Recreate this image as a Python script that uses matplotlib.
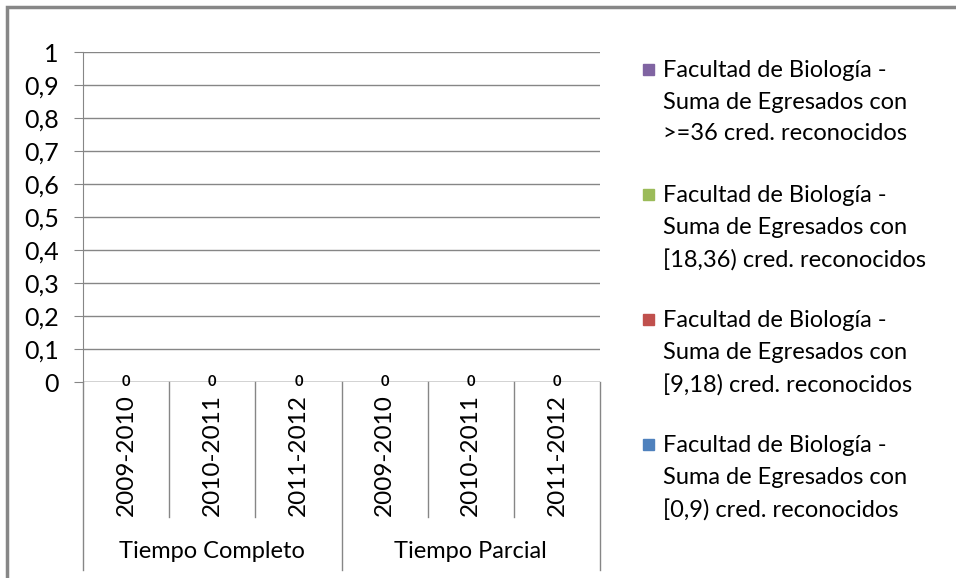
import numpy as np
import matplotlib.pyplot as plt
from matplotlib.patches import Rectangle

plt.rcParams['font.family'] = ['Lato', 'DejaVu Sans']

# data
years = ["2009-2010", "2010-2011", "2011-2012",
         "2009-2010", "2010-2011", "2011-2012"]
groups = ["Tiempo Completo", "Tiempo Parcial"]
series_names = [
    "Facultad de Biología -\nSuma de Egresados con\n[0,9) cred. reconocidos",
    "Facultad de Biología -\nSuma de Egresados con\n[9,18) cred. reconocidos",
    "Facultad de Biología -\nSuma de Egresados con\n[18,36) cred. reconocidos",
    "Facultad de Biología -\nSuma de Egresados con\n>=36 cred. reconocidos",
]
s_0_9 = [0, 0, 0, 0, 0, 0]
s_9_18 = [0, 0, 0, 0, 0, 0]
s_18_36 = [0, 0, 0, 0, 0, 0]
s_36 = [0, 0, 0, 0, 0, 0]
colors = ["#4F81BD", "#C0504D", "#9BBB59", "#8064A2"]

grid_col = "#868686"
FS = 17
W, H = 956, 578
fig = plt.figure(figsize=(W/100, H/100), dpi=100)
ax = fig.add_axes([83/W, 1-382/H, (600-83)/W, 330/H])

x = np.arange(len(years)) + 0.5
bottom = np.zeros(len(years))
bars = []
for vals, c, name in zip([s_0_9, s_9_18, s_18_36, s_36], colors, series_names):
    b = ax.bar(x, vals, width=0.55, bottom=bottom, color=c, label=name)
    bars.append(b)
    bottom += np.array(vals)

# data labels (stack totals, all zero)
for xi, v in zip(x, bottom):
    ax.text(xi, v, f"{v:g}", ha="center", va="center", fontsize=10.5,
            fontweight="bold", color="#000000", zorder=5)

ax.set_xlim(0, len(years))
ax.set_ylim(0, 1)
yt = np.round(np.arange(0, 1.01, 0.1), 1)
ax.set_yticks(yt)
ax.set_yticklabels([f"{t:g}".replace(".", ",") for t in yt], fontsize=18)
ax.tick_params(axis="y", length=6.5, color=grid_col, pad=11)
ax.set_xticks([])
ax.yaxis.grid(True, color=grid_col, linewidth=1)
ax.set_axisbelow(True)
for s in ["top", "right", "bottom"]:
    ax.spines[s].set_visible(False)
ax.spines["left"].set_color(grid_col)
ax.axhline(0, color=grid_col, linewidth=1, zorder=1)

# multi-level category axis
yr_bot = -(517-382)/330
grp_bot = -(570-382)/330
for i in range(len(years) + 1):
    yb = grp_bot if i % 3 == 0 else yr_bot
    ax.plot([i, i], [0, yb], color=grid_col, linewidth=1, clip_on=False)
for xi, lab in zip(x, years):
    ax.text(xi, -(455-382)/330, lab, rotation=90, ha="center", va="center",
            fontsize=17.5)
for gi, g in enumerate(groups):
    ax.text(gi*3 + 1.5, -(551-382)/330, g, ha="center", va="center", fontsize=FS)

# legend (top entry = last series), built by hand so the square sits on line 1
leg_top = [70, 195, 320, 445]
for k, (name, c) in enumerate(zip(series_names[::-1], colors[::-1])):
    yc = leg_top[k]
    fig.patches.append(Rectangle((643/W, 1-(yc+5)/H), 11/W, 11/H,
                                 transform=fig.transFigure, color=c))
    fig.text(663/W, 1-(yc-10)/H, name, ha="left", va="top", fontsize=FS,
             linespacing=1.63)

# outer chart border
fig.patches.append(Rectangle((7/W, -0.05), 1.0, 1-7/H+0.05,
                             transform=fig.transFigure, fill=False,
                             edgecolor="#878787", linewidth=2.5))

fig.savefig("out.png", dpi=100)
